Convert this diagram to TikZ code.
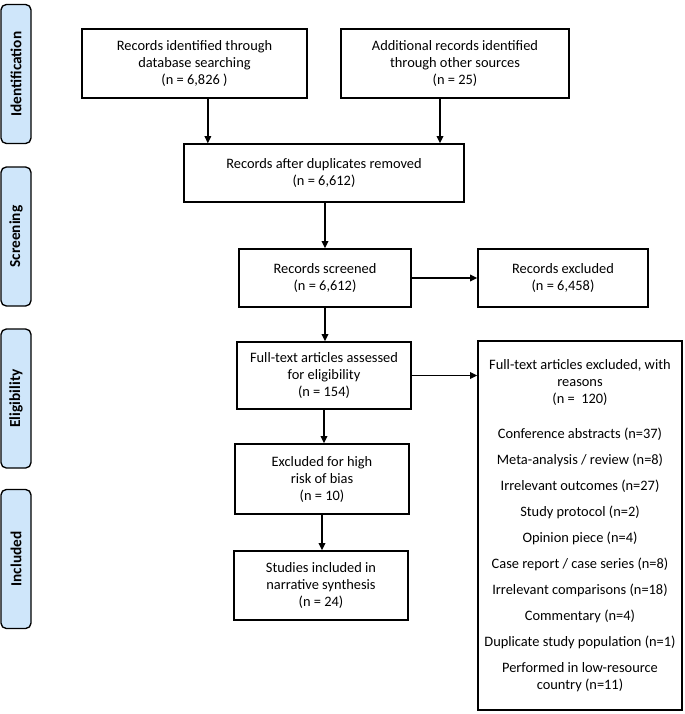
\documentclass[tikz,border=0pt]{standalone}
\usepackage{fontspec}
\setmainfont{Carlito}
\usetikzlibrary{arrows.meta}
\definecolor{stageblue}{RGB}{207,230,250}
\tikzset{%
  box/.style={draw, line width=1pt, align=center, inner sep=2pt,
    font=\fontsize{10.8}{12.75}\selectfont},
  stage/.style={draw, line width=1pt, fill=stageblue, rounded corners=4pt,
    rotate=90, minimum width=104.25pt, minimum height=22.5pt, inner sep=0pt,
    font=\fontsize{11.5}{13}\selectfont\bfseries},
  arrow/.style={line width=1pt, -{Triangle[length=5.5pt,width=5pt]}},
}

\begin{document}
\begin{tikzpicture}[x=0.75pt,y=-0.75pt]
  \useasboundingbox (0,0) rectangle (685,714);
  % stage labels on the left
  \foreach \yc/\name/\txt in {74/sIdent/Identification,236.5/sScreen/Screening,
      398.5/sElig/Eligibility,559/sIncl/Included}
    \node [stage] (\name) at (16,\yc) {\txt};
  % identification
  \node [box, minimum width=168.75pt, minimum height=51.75pt] (ident) at (194.5,63.5)
    {Records identified through\\ database searching\\ (n = 6,826\ )};
  \node [box, minimum width=171pt, minimum height=51.75pt] (other) at (455,63.5)
    {Additional records identified\\ through other sources\\ (n = 25)};
  % screening
  \node [box, minimum width=210pt, minimum height=43.5pt] (dup) at (324,173)
    {Records after duplicates removed\\ (n = 6,612)};
  \node [box, minimum width=129pt, minimum height=43.5pt] (screened) at (325,278)
    {Records screened\\ (n = 6,612)};
  \node [box, minimum width=127.5pt, minimum height=43.5pt] (excl) at (563,278)
    {Records excluded\\ (n = 6,458)};
  % eligibility
  \node [box, minimum width=130.5pt, minimum height=50.25pt] (fulltext) at (324,375.5)
    {Full-text articles assessed\\ for eligibility\\ (n = 154)};
  \node [box, minimum width=153pt, minimum height=276.75pt] (reasons) at (580,525.5)
    {Full-text articles excluded, with\\ reasons\\ (n =\ \ 120)\\[13.5pt]
     Conference abstracts (n=37)\\[6.75pt]
     Meta-analysis / review (n=8)\\[6.75pt]
     Irrelevant outcomes (n=27)\\[6.75pt]
     Study protocol (n=2)\\[6.75pt]
     Opinion piece (n=4)\\[6.75pt]
     Case report / case series (n=8)\\[6.75pt]
     Irrelevant comparisons (n=18)\\[6.75pt]
     Commentary (n=4)\\[6.75pt]
     Duplicate study population (n=1)\\[6.75pt]
     Performed in low-resource\\ country (n=11)};
  \node [box, minimum width=130.5pt, minimum height=52.5pt] (bias) at (322,479)
    {Excluded for high\\ risk of bias\\ (n = 10)};
  % included
  \node [box, minimum width=130.5pt, minimum height=51.75pt] (incl) at (321,585.5)
    {Studies included in\\ narrative synthesis\\ (n = 24)};
  % arrows
  \coordinate (identout) at ([xshift=10pt]ident.south);
  \coordinate (otherout) at ([xshift=-11.25pt]other.south);
  \draw [arrow] (identout) -- (identout |- dup.north);
  \draw [arrow] (otherout) -- (otherout |- dup.north);
  \draw [arrow] (dup.south -| screened.north) -- (screened.north);
  \draw [arrow] (screened.east) -- (excl.west);
  \draw [arrow] (screened.south) -- (screened.south |- fulltext.north);
  \draw [arrow] (fulltext.east) -- (fulltext.east -| reasons.west);
  \draw [arrow] (fulltext.south) -- (fulltext.south |- bias.north);
  \draw [arrow] (bias.south) -- (bias.south |- incl.north);
\end{tikzpicture}
\end{document}
